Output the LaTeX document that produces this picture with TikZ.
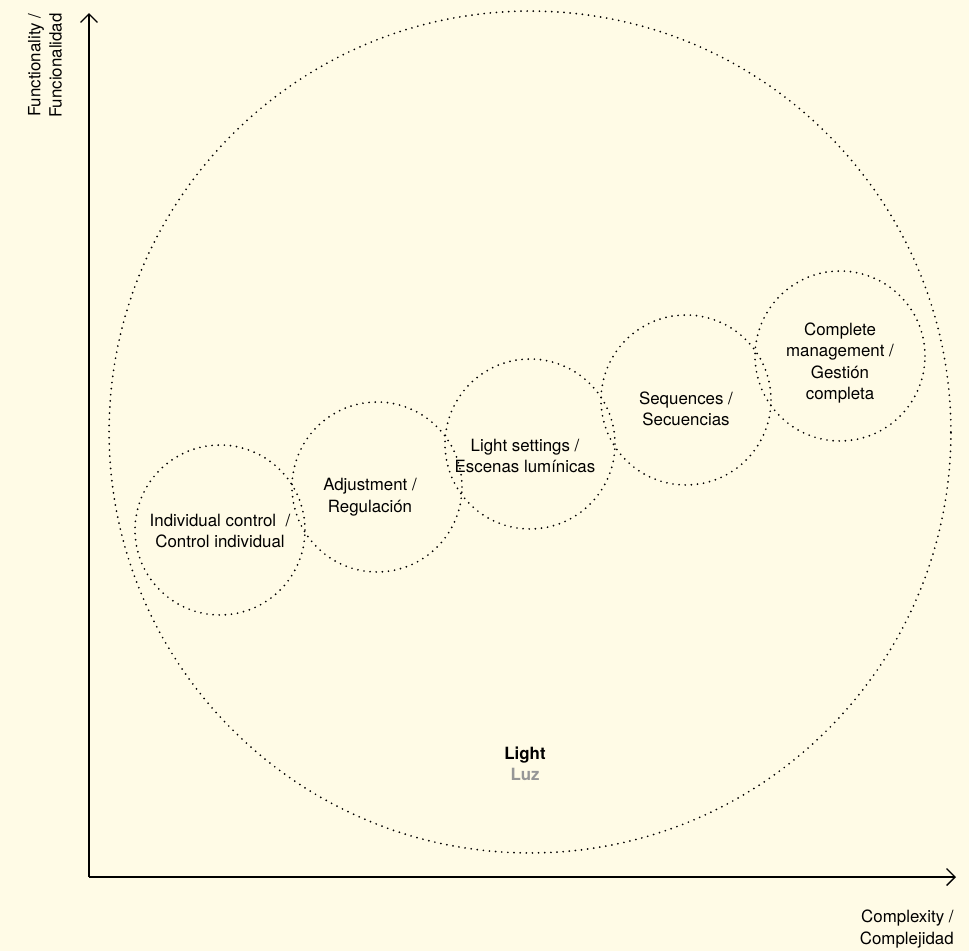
\documentclass[tikz,border=0pt]{standalone}
\usepackage{fontspec}
\setmainfont{TeX Gyre Heros}
\usetikzlibrary{arrows.meta}
\definecolor{paper}{RGB}{255,251,230}
\definecolor{luzgray}{RGB}{150,150,150}

\begin{document}
\begin{tikzpicture}[
  x=0.02cm,y=-0.02cm,
  font=\fontsize{9.6}{12.2}\selectfont,
  dots/.style={line width=1.1pt,dash pattern=on 0pt off 3.5pt,line cap=round},
  ring/.style={dots,draw,circle,minimum size=3.4cm,inner sep=0pt},
  big/.style={dots,draw,circle,minimum size=16.84cm,inner sep=0pt},
  lbl/.style={align=center,inner sep=0pt},
  axis/.style={line width=0.75pt,-{Straight Barb[length=1.7mm,width=3.4mm]}}
]
\fill[paper] (0,0) rectangle (969,951);
\useasboundingbox (0,0) rectangle (969,951);

\node[big] (light) at (530,432) {};
\node[ring] (c1) at (220,530) {};
\node[ring] (c2) at (377,487) {};
\node[ring] (c3) at (530,444) {};
\node[ring] (c4) at (686,400) {};
\node[ring] (c5) at (840,356) {};

\node[lbl] (t1) at (220,531) {Individual control~~/\\Control individual};
\node[lbl] (t2) at (370,497) {Adjustment /\\Regulación};
\node[lbl] (t3) at (525,456) {Light settings /\\Escenas lumínicas};
\node[lbl] (t4) at (686,409) {Sequences /\\Secuencias};
\node[lbl] (t5) at (840,363) {Complete\\management /\\Gestión\\completa};
\node[lbl,font=\fontsize{9.6}{12.2}\selectfont\bfseries] (t6) at (525,764) {Light\\\textcolor{luzgray}{Luz}};

\coordinate (o) at (89,877);
\coordinate (ytop) at (89,13);
\coordinate (xend) at (956,877);
\draw[axis] (o) -- (ytop);
\draw[axis] (o) -- (xend);

\node[lbl,align=right,rotate=90,anchor=east] (ylab) at (45,13) {Functionality /\\Funcionalidad};
\node[lbl,align=right,anchor=north east] (xlab) at (954,910) {Complexity /\\Complejidad};
\end{tikzpicture}
\end{document}
